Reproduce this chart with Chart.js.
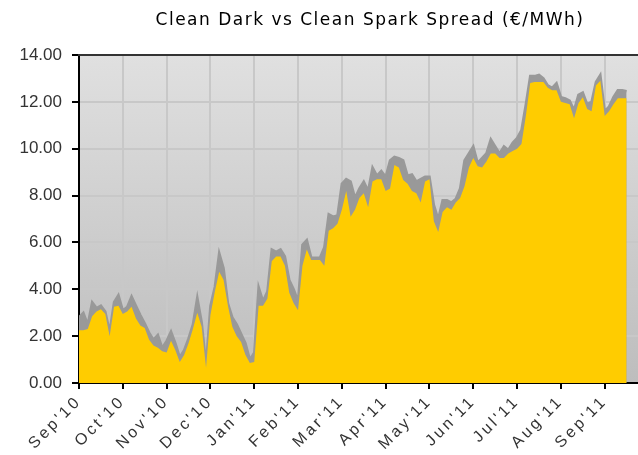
<!DOCTYPE html>
<html>
<head>
<meta charset="utf-8">
<script src="https://cdn.jsdelivr.net/npm/chart.js@4.4.1/dist/chart.umd.min.js"></script>
<style>
  html, body { margin: 0; padding: 0; background: #ffffff; }
  #wrap { width: 638px; height: 455px; position: relative; }
</style>
</head>
<body>
<div id="wrap"><canvas id="c" width="638" height="455"></canvas></div>
<script>
// ---- data (one point roughly every two trading days, 10 points per month) ----
const titleText = "Clean Dark vs Clean Spark Spread (\u20AC/MWh)";
const monthLabels = ["Sep'10","Oct'10","Nov'10","Dec'10","Jan'11","Feb'11","Mar'11","Apr'11","May'11","Jun'11","Jul'11","Aug'11","Sep'11"];
const yTicks = [0, 2, 4, 6, 8, 10, 12, 14];

// yellow area series (front)
const cleanDark = [
  2.25, 2.25, 2.3, 2.85, 3.05, 3.15, 2.95, 2.0, 3.25, 3.3,
  2.95, 3.05, 3.25, 2.75, 2.45, 2.35, 1.85, 1.6, 1.5, 1.35,
  1.3, 1.8, 1.4, 0.9, 1.2, 1.7, 2.3, 3.0, 2.4, 0.65,
  2.9, 3.9, 4.75, 4.4, 3.3, 2.4, 2.0, 1.75, 1.2, 0.85,
  0.9, 3.3, 3.3, 3.6, 5.2, 5.4, 5.4, 5.0, 3.85, 3.4,
  3.1, 5.0, 5.7, 5.25, 5.25, 5.25, 5.0, 6.5, 6.6, 6.8,
  7.4, 8.2, 7.1, 7.4, 7.9, 8.1, 7.5, 8.6, 8.7, 8.7,
  8.2, 8.3, 9.3, 9.2, 8.66, 8.5, 8.2, 8.1, 7.7, 8.6,
  8.7, 6.9, 6.45, 7.3, 7.5, 7.4, 7.7, 7.9, 8.4, 9.2,
  9.6, 9.25, 9.2, 9.45, 9.8, 9.8, 9.6, 9.6, 9.8, 9.9,
  10.0, 10.2, 11.4, 12.8, 12.85, 12.85, 12.85, 12.6, 12.5, 12.5,
  12.0, 11.95, 11.9, 11.3, 11.94, 12.2, 11.7, 11.6, 12.7, 12.9,
  11.4, 11.6, 11.9, 12.15, 12.15, 12.15
];
// grey area series (behind)
const cleanSpark = [
  2.8, 3.0, 2.5, 3.45, 3.2, 3.3, 3.05, 2.2, 3.45, 3.75,
  3.1, 3.25, 3.7, 3.3, 2.9, 2.55, 2.15, 1.85, 2.05, 1.5,
  1.8, 2.2, 1.7, 1.1, 1.4, 1.9, 2.5, 3.65, 2.6, 0.8,
  3.3, 4.1, 5.55, 4.9, 3.4, 2.8, 2.5, 2.1, 1.7, 1.0,
  1.3, 4.1, 3.5, 3.9, 5.7, 5.6, 5.7, 5.4, 4.4, 4.0,
  3.5, 5.9, 6.1, 5.35, 5.35, 5.35, 5.8, 7.2, 7.1, 7.15,
  8.5, 8.7, 8.6, 7.9, 8.3, 8.6, 8.2, 9.2, 8.85, 9.05,
  8.8, 9.5, 9.65, 9.6, 9.5, 8.85, 8.9, 8.6, 8.7, 8.8,
  8.8, 7.6, 7.0, 7.8, 7.8, 7.7, 7.85, 8.3, 9.5, 9.8,
  10.1, 9.4, 9.6, 9.8, 10.4, 10.1, 9.8, 10.1, 9.95, 10.25,
  10.45, 10.8, 11.9, 13.1, 13.1, 13.15, 13.0, 12.7, 12.6, 12.8,
  12.2, 12.15, 12.05, 11.65, 12.3, 12.4, 11.9, 12.0, 12.85, 13.15,
  11.6, 11.8, 12.2, 12.5, 12.5, 12.45
];
const pointsPerMonth = 10;

const toXY = arr => arr.map((v, i) => ({ x: i, y: v }));

const bgPlugin = {
  id: 'bg',
  afterLayout(chart) {
    const sx = chart.scales.x;
    if (!sx._lsWrapped) {
      const orig = sx.drawLabels;
      sx.drawLabels = function (area) {
        const ctx = this.ctx;
        ctx.save();
        ctx.letterSpacing = '3px';
        orig.call(this, area);
        ctx.restore();
      };
      sx._lsWrapped = true;
    }
  },
  beforeDraw(chart) {
    const { ctx, chartArea: a } = chart;
    ctx.save();
    const g = ctx.createLinearGradient(0, a.top, 0, a.bottom);
    g.addColorStop(0, '#e0e0e0');
    g.addColorStop(1, '#bdbdbd');
    ctx.fillStyle = g;
    ctx.fillRect(a.left, a.top, a.right - a.left, a.bottom - a.top);
    ctx.restore();
  },
  afterDraw(chart) {
    const { ctx, chartArea: a } = chart;
    ctx.save();
    ctx.strokeStyle = '#333333';
    ctx.lineWidth = 2;
    ctx.beginPath();
    ctx.moveTo(a.left - 1, a.top);
    ctx.lineTo(a.right, a.top);
    ctx.stroke();
    // title
    ctx.fillStyle = '#000000';
    ctx.font = '17px "DejaVu Sans"';
    ctx.letterSpacing = '1.5px';
    ctx.textAlign = 'center';
    ctx.textBaseline = 'middle';
    ctx.fillText(titleText, 370, 21);
    ctx.restore();
  }
};

new Chart(document.getElementById('c'), {
  type: 'line',
  data: {
    datasets: [
      {
        label: 'Clean Dark',
        data: toXY(cleanDark),
        borderColor: 'rgba(0,0,0,0)',
        borderWidth: 0,
        backgroundColor: '#ffcc00',
        pointRadius: 0,
        fill: 'origin',
        tension: 0,
        order: 0
      },
      {
        label: 'Clean Spark',
        data: toXY(cleanSpark),
        borderColor: '#999999',
        borderWidth: 2.5,
        backgroundColor: '#999999',
        pointRadius: 0,
        fill: 'origin',
        tension: 0,
        order: 1
      }
    ]
  },
  plugins: [bgPlugin],
  options: {
    responsive: false,
    animation: false,
    layout: { padding: { top: 55, right: 0, left: 0, bottom: 0 } },
    plugins: { legend: { display: false }, tooltip: { enabled: false }, title: { display: false } },
    scales: {
      x: {
        type: 'linear',
        min: 0,
        max: 127.6,
        afterFit(s) { s.height = 72; },
        afterBuildTicks(s) { s.ticks = monthLabels.map((m, k) => ({ value: k * pointsPerMonth })); },
        ticks: {
          autoSkip: false,
          minRotation: 45,
          maxRotation: 45,
          color: '#333333',
          font: { family: '"Liberation Sans"', size: 16 },
          callback: v => monthLabels[Math.round(v / pointsPerMonth)]
        },
        grid: { color: '#c8c8c8', lineWidth: 2, tickColor: '#000000', tickLength: 6, drawTicks: true },
        border: { color: '#000000', width: 2 }
      },
      y: {
        min: 0,
        max: 14,
        afterFit(s) { s.width = 79; },
        afterBuildTicks(s) { s.ticks = yTicks.map(v => ({ value: v })); },
        ticks: {
          color: '#333333',
          font: { family: '"Liberation Sans"', size: 17 },
          padding: 10,
          callback: v => v.toFixed(2)
        },
        grid: { color: '#c8c8c8', lineWidth: 2, tickColor: '#000000', tickLength: 7 },
        border: { color: '#000000', width: 2 }
      }
    }
  }
});
</script>
</body>
</html>
